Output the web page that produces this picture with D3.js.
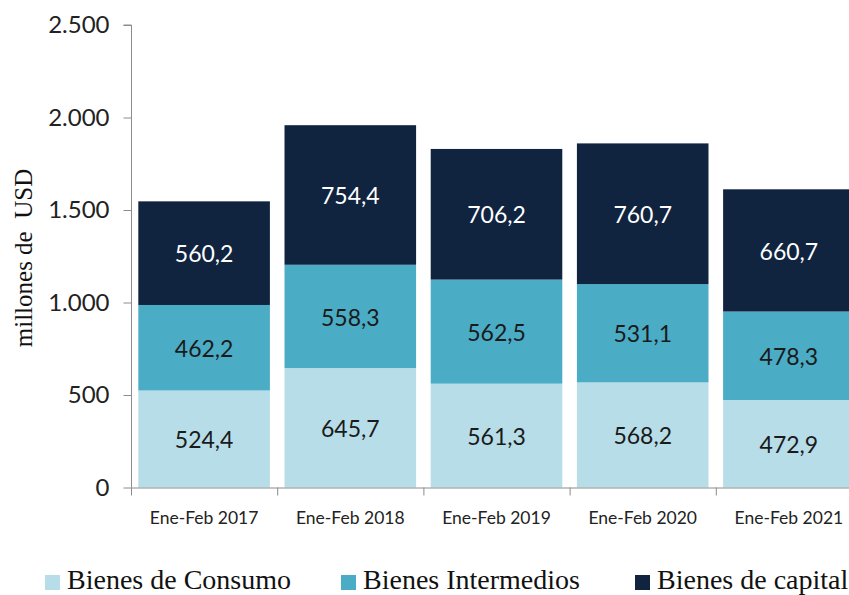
<!DOCTYPE html>
<html>
<head>
<meta charset="utf-8">
<script src="https://cdn.jsdelivr.net/npm/d3@7/dist/d3.min.js"></script>
<style>
  body { margin: 0; background: #fff; overflow: hidden; }
</style>
</head>
<body>
<div id="viz"></div>
<script>
// Data
const periods = ["Ene-Feb 2017", "Ene-Feb 2018", "Ene-Feb 2019", "Ene-Feb 2020", "Ene-Feb 2021"];
const consumo = [524.4, 645.7, 561.3, 568.2, 472.9];
const intermedios = [462.2, 558.3, 562.5, 531.1, 478.3];
const capital = [560.2, 754.4, 706.2, 760.7, 660.7];
const seriesNames = ["Bienes de Consumo", "Bienes Intermedios", "Bienes de capital"];
const yTicks = [0, 500, 1000, 1500, 2000, 2500];

const colors = ["#B7DDE8", "#4BACC6", "#10243F"];
const labelColors = ["#1a1a1a", "#1a1a1a", "#ffffff"];

const w = 849, h = 595;
const margin = {top: 25, left: 131, bottom: 107};
const bandW = 146.2;
const sans = "Lato, 'Open Sans', sans-serif";
const serif = "'Liberation Serif', serif";

// table for stack
const rows = periods.map((p, i) => ({
	period: p,
	"Bienes de Consumo": consumo[i],
	"Bienes Intermedios": intermedios[i],
	"Bienes de capital": capital[i]
}));
const stacked = d3.stack().keys(seriesNames)(rows);

const xScale = d3.scaleBand()
	.domain(periods)
	.range([margin.left, margin.left + bandW * periods.length])
	.paddingInner(0.1)
	.paddingOuter(0.05);

const yScale = d3.scaleLinear()
	.domain([0, 2500])
	.range([h - margin.bottom - 0.5, margin.top]);

const fmt = d3.formatLocale({decimal: ",", thousands: ".", grouping: [3], currency: ["", ""]});
const fmtTick = fmt.format(",.0f");
const fmtVal = fmt.format(",.1f");

const svg = d3.select("#viz")
	.append("svg")
	.attr("width", w)
	.attr("height", h);

// bars
const layer = svg.selectAll("g.layer")
	.data(stacked)
	.enter()
	.append("g")
	.attr("class", "layer")
	.attr("fill", (d, i) => colors[i]);

layer.selectAll("rect")
	.data(d => d)
	.enter()
	.append("rect")
	.attr("x", d => xScale(d.data.period))
	.attr("width", xScale.bandwidth())
	.attr("y", d => yScale(d[1]))
	.attr("height", d => yScale(d[0]) - yScale(d[1]));

// value labels
stacked.forEach((s, si) => {
	svg.append("g")
		.selectAll("text")
		.data(s)
		.enter()
		.append("text")
		.attr("x", d => xScale(d.data.period) + xScale.bandwidth() / 2)
		.attr("y", d => (yScale(d[0]) + yScale(d[1])) / 2)
		.attr("dy", "0.4em")
		.attr("text-anchor", "middle")
		.attr("font-family", sans)
		.attr("font-size", 23)
		.attr("fill", labelColors[si])
		.text(d => fmtVal(d[1] - d[0]));
});

// y axis
const yAxis = svg.append("g")
	.attr("transform", `translate(${margin.left + 0.5},0)`)
	.call(d3.axisLeft(yScale).tickValues(yTicks).tickFormat(fmtTick).tickSize(8).tickPadding(14));
yAxis.select(".domain").attr("stroke", "#8c8c8c").attr("d", `M-8,${yScale(2500)}H0V${yScale(0)}`);
yAxis.selectAll(".tick line").attr("stroke", "#8c8c8c");
yAxis.selectAll(".tick text")
	.attr("font-family", sans)
	.attr("font-size", 24)
	.attr("fill", "#222");

// x axis line + boundary ticks
const xBase = yScale(0);
svg.append("line")
	.attr("x1", margin.left).attr("x2", w)
	.attr("y1", xBase + 0.5).attr("y2", xBase + 0.5)
	.attr("stroke", "#8c8c8c");
svg.selectAll("line.xtick")
	.data(d3.range(periods.length + 1))
	.enter()
	.append("line")
	.attr("class", "xtick")
	.attr("x1", i => margin.left + 0.5 + i * bandW)
	.attr("x2", i => margin.left + 0.5 + i * bandW)
	.attr("y1", xBase)
	.attr("y2", xBase + 8)
	.attr("stroke", "#8c8c8c");
svg.selectAll("text.xlab")
	.data(periods)
	.enter()
	.append("text")
	.attr("class", "xlab")
	.attr("x", d => xScale(d) + xScale.bandwidth() / 2)
	.attr("y", xBase + 36)
	.attr("text-anchor", "middle")
	.attr("font-family", sans)
	.attr("font-size", 17.5)
	.attr("fill", "#222")
	.text(d => d);

// y title
svg.append("text")
	.attr("transform", "translate(32,258) rotate(-90)")
	.attr("text-anchor", "middle")
	.attr("font-family", serif)
	.attr("font-size", 25)
	.attr("fill", "#111")
	.attr("xml:space", "preserve")
	.text("millones de  USD");

// legend
const legendX = [45, 341, 635];
const legend = svg.selectAll("g.leg")
	.data(seriesNames)
	.enter()
	.append("g")
	.attr("class", "leg")
	.attr("transform", (d, i) => `translate(${legendX[i]},575)`);
legend.append("rect")
	.attr("width", 15).attr("height", 15)
	.attr("fill", (d, i) => colors[i]);
legend.append("text")
	.attr("x", 22)
	.attr("y", 14)
	.attr("font-family", serif)
	.attr("font-size", 28)
	.attr("fill", "#111")
	.text(d => d);
</script>
</body>
</html>
